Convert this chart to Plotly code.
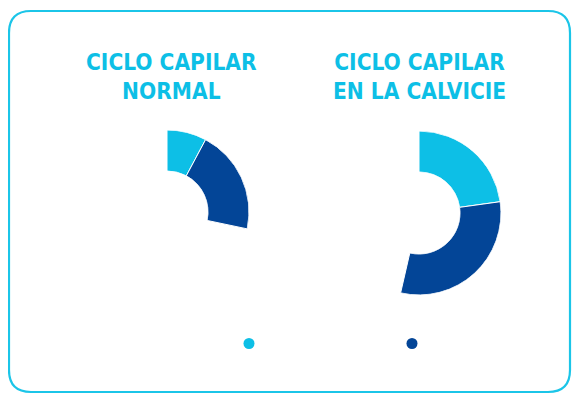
import numpy as np
import plotly.graph_objects as go

# datos (porcentaje de la circunferencia)
fases = ["Fase 1", "Fase 2"]
colores = ["#0DBFE6", "#034597"]
normal = [7.8, 20.5]
calvicie = [22.8, 30.8]
titulos = ["CICLO CAPILAR<br>NORMAL", "CICLO CAPILAR<br>EN LA CALVICIE"]

W, H = 582, 401
DX, DY = 8, 8  # margen del body de la pagina


def arcos(valores):
    v = np.array(valores) * 3.6
    centro = np.cumsum(v) - v / 2
    return centro, v


fig = go.Figure()

for i, (valores, polar) in enumerate([(normal, "polar"), (calvicie, "polar2")]):
    centro, ancho = arcos(valores)
    for j in range(len(fases)):
        fig.add_trace(go.Barpolar(
            r=[1], theta=[centro[j]], width=[ancho[j]],
            marker=dict(color=colores[j], line=dict(color="white", width=1)),
            subplot=polar, showlegend=False, name=fases[j],
        ))

# marcadores de la leyenda
for j in range(len(fases)):
    fig.add_trace(go.Scatterpolar(
        r=[None], theta=[None], mode="markers", name="",
        marker=dict(color=colores[j], size=11, symbol="circle"),
        subplot="polar", showlegend=True,
    ))


def px_x(x):
    return (x - DX) / W


def px_y(y):
    return 1 - (y - DY) / H


def dominio(cx, cy, rad):
    return dict(x=[px_x(cx - rad), px_x(cx + rad)],
                y=[px_y(cy + rad), px_y(cy - rad)])


ejes = dict(
    bgcolor="white", hole=0.5,
    radialaxis=dict(visible=False, range=[0, 1]),
    angularaxis=dict(visible=False, direction="clockwise", rotation=90),
)
fig.update_layout(
    polar=dict(domain=dominio(167, 212, 82), **ejes),
    polar2=dict(domain=dominio(419, 213, 82), **ejes),
)

# titulos
fuente = "DejaVu Sans Condensed, DejaVu Sans, sans-serif"
for cx, t in zip([171, 419], titulos):
    fig.add_annotation(
        text=t, x=px_x(cx), y=px_y(47), xref="paper", yref="paper",
        xanchor="center", yanchor="top", showarrow=False, align="center",
        font=dict(family=fuente, size=22.5, color="#0DBFE6", weight="bold"),
    )

# marco redondeado
x0, y0, x1, y1, rc = 9, 11, 570, 392, 22
ruta = (f"M {x0 + rc},{y0} L {x1 - rc},{y0} Q {x1},{y0} {x1},{y0 + rc} "
        f"L {x1},{y1 - rc} Q {x1},{y1} {x1 - rc},{y1} L {x0 + rc},{y1} "
        f"Q {x0},{y1} {x0},{y1 - rc} L {x0},{y0 + rc} Q {x0},{y0} {x0 + rc},{y0} Z")


def a_papel(p):
    out = []
    for tok in p.split():
        if "," in tok:
            a, b = tok.split(",")
            out.append(f"{px_x(float(a)):.5f},{px_y(float(b)):.5f}")
        else:
            out.append(tok)
    return " ".join(out)


fig.add_shape(type="path", path=a_papel(ruta), xref="paper", yref="paper",
              line=dict(color="#1BC5E8", width=2.2))

fig.update_layout(
    width=W, height=H,
    margin=dict(l=0, r=0, t=0, b=0, autoexpand=False),
    paper_bgcolor="white",
    showlegend=True,
    legend=dict(orientation="h", x=px_x(249 - 20), y=px_y(329),
                xanchor="left", yanchor="top", entrywidth=118,
                entrywidthmode="pixels", font=dict(size=12),
                itemclick=False, itemdoubleclick=False),
)

fig.write_html("out.html")
